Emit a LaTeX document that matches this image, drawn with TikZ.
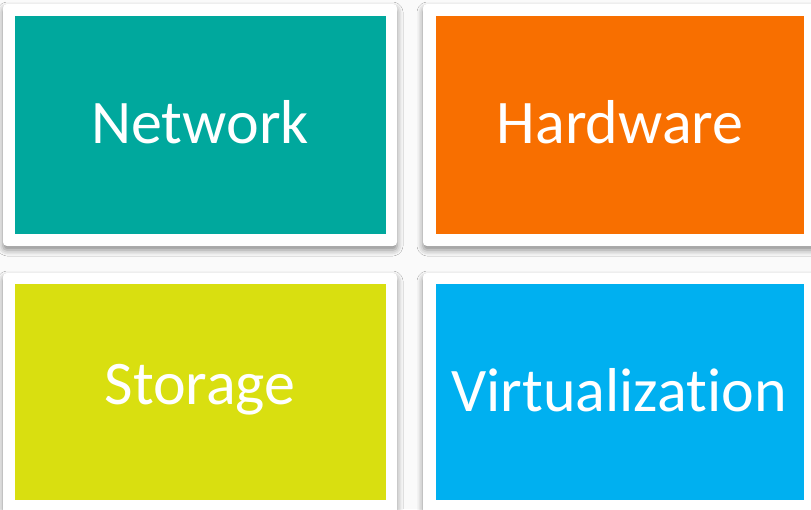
\documentclass[tikz,border=0pt]{standalone}
\usepackage{fontspec}
\setmainfont{Carlito}[Ligatures={NoCommon}]
\usetikzlibrary{shadows.blur}
\definecolor{cteal}{RGB}{0,168,157}
\definecolor{corange}{RGB}{248,111,0}
\definecolor{cyellow}{RGB}{217,223,16}
\definecolor{cblue}{RGB}{0,176,240}
\definecolor{bg}{RGB}{250,250,250}
\tikzset{
  card/.style={fill=white, rounded corners=4pt,
    blur shadow={shadow xshift=0pt, shadow yshift=-4pt, shadow blur radius=6pt, shadow opacity=45}},
  label/.style={text=white, font=\fontsize{62}{64}\selectfont, inner sep=0pt, anchor=center}
}
\begin{document}
\begin{tikzpicture}[x=1pt,y=-1pt]
\useasboundingbox (0,0) rectangle (811,509);
\fill[bg] (0,0) rectangle (811,509);
% cards
\path[card] (3,4) rectangle (397,246);
\path[card] (423,4) rectangle (830,246);
\path[card] (3,273) rectangle (397,530);
\path[card] (423,273) rectangle (830,530);
% coloured boxes
\fill[cteal] (15,16) rectangle (386,234);
\fill[corange] (436,16) rectangle (804,234);
\fill[cyellow] (15,284) rectangle (386,500);
\fill[cblue] (436,284) rectangle (804,500);
% labels
\node[label] (net) at (200,122) {Network};
\node[label] (hw) at (620,122) {Hardware};
\node[label] (sto) at (200,390) {Storage};
\node[label] (virt) at (619,390) {Virtualization};
\end{tikzpicture}
\end{document}
